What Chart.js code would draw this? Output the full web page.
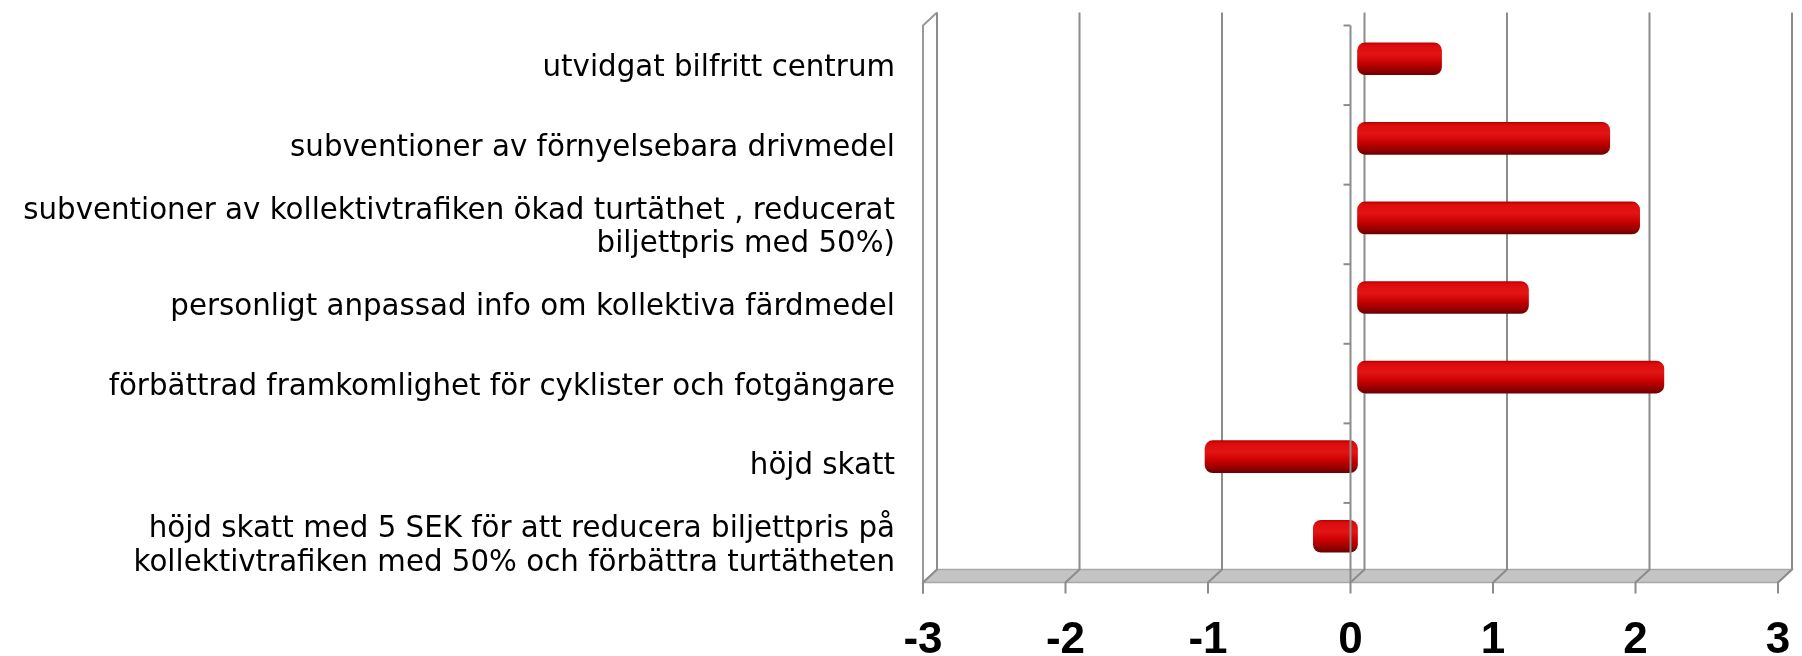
<!DOCTYPE html>
<html>
<head>
<meta charset="utf-8">
<script src="https://cdn.jsdelivr.net/npm/chart.js@4"></script>
<style>
  html, body { margin: 0; padding: 0; background: #fff; }
  #wrap { width: 1802px; height: 656px; }
</style>
</head>
<body>
<div id="wrap"><canvas id="myChart" width="1802" height="656"></canvas></div>
<script>
const categories = [
    'utvidgat bilfritt centrum',
    'subventioner av förnyelsebara drivmedel',
    ['subventioner av kollektivtrafiken ökad turtäthet , reducerat', 'biljettpris med 50%)'],
    'personligt anpassad info om kollektiva färdmedel',
    'förbättrad framkomlighet för cyklister och fotgängare',
    'höjd skatt',
    ['höjd skatt med 5 SEK för att reducera biljettpris på', 'kollektivtrafiken med 50% och förbättra turtätheten']
];
const values = [0.59, 1.77, 1.98, 1.2, 2.15, -1.07, -0.31];
const xTicks = [-3, -2, -1, 0, 1, 2, 3];

// depth offset between the middle plane (bars) and the back / front planes
const DX = 7, DY = 6.5;

const gridColor = '#8c8c8c';

// front category axis line (drawn over the bars, like in the 3D original)
function drawCatAxis(chart) {
    const c = chart.ctx, a = chart.chartArea;
    const xz = chart.scales.x.getPixelForValue(0) - DX;
    c.save();
    c.strokeStyle = gridColor;
    c.lineWidth = 2;
    c.beginPath();
    c.moveTo(xz, a.top + DY);
    c.lineTo(xz, a.bottom + DY);
    c.stroke();
    const step = (a.bottom - a.top) / categories.length;
    for (let i = 0; i < categories.length; i++) {
        const y = a.top + DY + i * step;
        c.beginPath();
        c.moveTo(xz - 7, y);
        c.lineTo(xz, y);
        c.stroke();
    }
    c.restore();
}

const frame3d = {
    id: 'frame3d',
    beforeDatasetsDraw(chart) {
        const c = chart.ctx, a = chart.chartArea;
        const xs = chart.scales.x;
        c.save();

        // floor
        const x0 = xs.getPixelForValue(xTicks[0]), x1 = xs.getPixelForValue(xTicks[xTicks.length - 1]);
        c.beginPath();
        c.moveTo(x0 + DX, a.bottom - DY);
        c.lineTo(x1 + DX, a.bottom - DY);
        c.lineTo(x1 - DX, a.bottom + DY);
        c.lineTo(x0 - DX, a.bottom + DY);
        c.closePath();
        c.fillStyle = '#c4c4c4';
        c.fill();
        c.strokeStyle = '#a8a8a8';
        c.lineWidth = 1.5;
        c.stroke();

        // left side wall
        c.strokeStyle = '#9a9a9a';
        c.lineWidth = 2;
        c.beginPath();
        c.moveTo(x0 - DX, a.bottom + DY + 11);
        c.lineTo(x0 - DX, a.top + DY);
        c.lineTo(x0 + DX, a.top - DY);
        c.stroke();

        // vertical gridlines on the back wall, over the floor, and tick marks
        c.strokeStyle = gridColor;
        xTicks.forEach(v => {
            const x = xs.getPixelForValue(v);
            c.beginPath();
            c.moveTo(x + DX, a.top - DY);
            c.lineTo(x + DX, a.bottom - DY);
            c.lineTo(x - DX, a.bottom + DY);
            c.lineTo(x - DX, a.bottom + DY + 11);
            c.stroke();
        });
        c.restore();
    },
    afterDatasetsDraw(chart) {
        drawCatAxis(chart);
    }
};

new Chart(document.getElementById('myChart'), {
    type: 'bar',
    data: {
        labels: categories,
        datasets: [{
            data: values,
            barThickness: 32,
            backgroundColor: function(context) {
                const chart = context.chart;
                const ys = chart.scales.y;
                if (!chart.chartArea || !ys) return '#d00000';
                const y = ys.getPixelForValue(context.dataIndex);
                const g = chart.ctx.createLinearGradient(0, y - 16, 0, y + 16);
                g.addColorStop(0, '#b80000');
                g.addColorStop(0.08, '#dc0c0c');
                g.addColorStop(0.35, '#e31414');
                g.addColorStop(0.6, '#cc0202');
                g.addColorStop(0.85, '#960000');
                g.addColorStop(1, '#6e0000');
                return g;
            },
            borderWidth: 0,
            borderSkipped: false,
            borderRadius: 8,
        }]
    },
    plugins: [frame3d],
    options: {
        indexAxis: 'y',
        responsive: false,
        animation: false,
        layout: {
            padding: { top: 19, right: 17, left: 0, bottom: 0 }
        },
        plugins: {
            legend: { display: false },
            tooltip: { enabled: false },
        },
        scales: {
            x: {
                min: -3,
                max: 3,
                afterFit: s => { s.height = 80; s.paddingLeft = 0; s.paddingRight = 0; },
                afterBuildTicks: s => { s.ticks = xTicks.map(v => ({ value: v })); },
                grid: { display: false, drawTicks: false },
                border: { display: false },
                ticks: {
                    color: '#000',
                    padding: 43,
                    labelOffset: -DX,
                    maxRotation: 0,
                    font: { family: 'Liberation Sans', size: 44, weight: 'bold', lineHeight: 1 },
                }
            },
            y: {
                afterFit: s => { s.width = 930; s.paddingTop = 0; s.paddingBottom = 0; },
                grid: { display: false, drawTicks: false },
                border: { display: false },
                ticks: {
                    color: '#000',
                    padding: 35,
                    labelOffset: DY + 3.5,
                    font: { family: 'DejaVu Sans', size: 29.3, lineHeight: 1.15 },
                }
            }
        }
    }
});
</script>
</body>
</html>
